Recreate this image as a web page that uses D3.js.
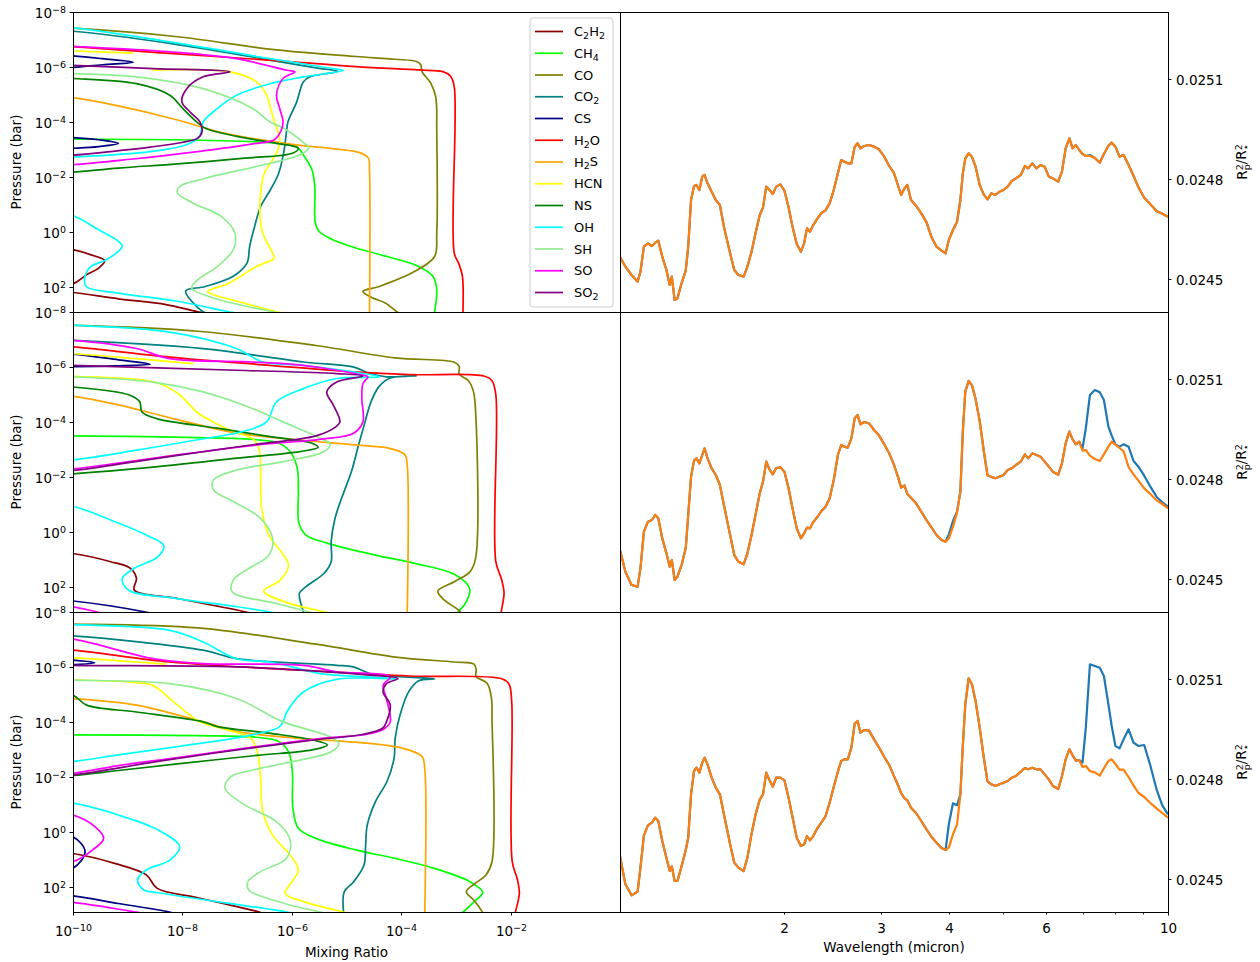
<!DOCTYPE html>
<html>
<head>
<meta charset="utf-8">
<script src="https://cdn.jsdelivr.net/npm/d3@7"></script>
<style>
  body { margin: 0; background: #fff; }
  svg text { font-family: "DejaVu Sans", sans-serif; fill: #000; }
</style>
</head>
<body>
<div id="chart"></div>
<script>
// ── Data ───────────────────────────────────────────────────────────────
// Profiles: each point is [log10(mixing ratio), log10(pressure / bar)].
// One sub-array per row (top, middle, bottom); null breaks a line.
const species = ["C2H2", "CH4", "CO", "CO2", "CS", "H2O", "H2S", "HCN", "NS", "OH", "SH", "SO", "SO2"];
const speciesColors = ["darkred", "lime", "olive", "teal", "navy", "red", "orange", "yellow", "green", "cyan", "lightgreen", "magenta", "purple"];

const C2H2 = [
  [[-10.6,0.5],[-10,0.65],[-9.67,0.84],[-9.42,1.05],[-9.53,1.32],[-9.75,1.56],[-10,1.89],[-10.6,2.0],[-10.6,2.1],[-10,2.21],[-9.17,2.44],[-8.3,2.65],[-7.72,2.91],[-7.4,3.0]],
  [[-10.6,0.7],[-10,0.79],[-9.31,1.09],[-8.95,1.33],[-8.84,1.7],[-8.88,2.12],[-8.09,2.43],[-6.86,2.91],[-6.7,3.0]],
  [[-10.6,0.7],[-10,0.79],[-9.24,1.15],[-8.66,1.57],[-8.46,2.06],[-7.72,2.4],[-6.57,2.94],[-6.5,3.0]]
];
const CH4 = [
  [[-10.6,-3.37],[-10,-3.37],[-8.09,-3.35],[-6.64,-3.27],[-6.13,-3.2],[-5.88,-3.04],[-5.77,-2.74],[-5.63,-2.25],[-5.58,-1.65],[-5.57,-0.32],[-5.5,-0.01],[-5.27,0.27],[-4.83,0.59],[-4.26,0.9],[-3.68,1.26],[-3.42,1.62],[-3.35,2.11],[-3.39,2.91],[-3.4,3.0]],
  [[-10.6,-3.49],[-10,-3.49],[-7.72,-3.43],[-6.64,-3.35],[-6.24,-3.22],[-6.03,-2.92],[-5.9,-2.31],[-5.88,-1.46],[-5.87,-0.31],[-5.74,0.12],[-5.34,0.42],[-4.47,0.85],[-3.75,1.15],[-3.03,1.55],[-2.75,2.06],[-2.81,2.55],[-2.96,2.91],[-3.0,3.0]],
  [[-10.6,-3.53],[-10,-3.53],[-7.72,-3.5],[-6.64,-3.44],[-6.24,-3.29],[-6.06,-2.92],[-5.99,-2.19],[-5.98,-0.86],[-5.88,-0.13],[-5.56,0.24],[-4.83,0.66],[-4.11,0.97],[-3.39,1.33],[-2.74,1.82],[-2.51,2.21],[-2.67,2.55],[-2.88,2.94],[-2.95,3.0]]
];
const CO = [
  [[-10.6,-7.45],[-10,-7.41],[-8.09,-7.1],[-6.28,-6.62],[-4.83,-6.38],[-4.11,-6.28],[-3.71,-6.19],[-3.64,-6.07],[-3.62,-5.83],[-3.46,-5.41],[-3.37,-4.92],[-3.35,-3.59],[-3.35,0.05],[-3.39,0.9],[-3.75,1.44],[-4.4,1.99],[-4.7,2.17],[-4.54,2.39],[-4.29,2.59],[-4.08,2.91],[-4.0,3.0]],
  [[-10.6,-7.52],[-10,-7.51],[-7.72,-7.3],[-5.56,-6.78],[-4.11,-6.33],[-3.03,-6.17],[-2.94,-6.02],[-2.94,-5.74],[-2.77,-5.5],[-2.68,-5.11],[-2.64,-4.38],[-2.64,0.97],[-2.74,1.45],[-3.03,1.82],[-3.33,2.16],[-3.21,2.49],[-2.99,2.79],[-2.92,2.91],[-2.9,3.0]],
  [[-10.6,-7.57],[-10,-7.56],[-7.72,-7.42],[-5.56,-6.83],[-4.11,-6.36],[-3.03,-6.18],[-2.67,-6.1],[-2.63,-5.9],[-2.63,-5.65],[-2.43,-5.41],[-2.35,-4.87],[-2.34,-4.14],[-2.34,1.09],[-2.45,1.57],[-2.67,1.91],[-2.81,2.18],[-2.67,2.49],[-2.52,2.91],[-2.5,3.0]]
];
const CO2 = [
  [[-10.6,-7.35],[-10,-7.3],[-8.2,-6.85],[-6.4,-6.25],[-5.5,-5.95],[-5.16,-5.84],[-5.67,-5.64],[-5.79,-5.45],[-5.91,-4.73],[-6.07,-4.0],[-6.1,-3.59],[-6.15,-2.86],[-6.24,-2.13],[-6.39,-1.53],[-6.57,-0.92],[-6.68,-0.19],[-6.77,0.53],[-6.82,1.14],[-7.07,1.62],[-7.58,1.99],[-7.94,2.15],[-7.83,2.53],[-7.62,2.91],[-7.5,3.0]],
  [[-10.6,-7.0],[-10,-6.97],[-7.62,-6.67],[-5.79,-6.18],[-4.88,-6.0],[-4.57,-5.76],[-4.27,-5.64],[-3.72,-5.68],[-4.2,-5.6],[-4.4,-5.3],[-4.55,-4.74],[-4.66,-4.01],[-4.78,-3.16],[-4.91,-2.19],[-5.09,-1.22],[-5.21,-0.49],[-5.28,0.36],[-5.28,1.09],[-5.41,1.51],[-5.74,2.0],[-5.86,2.24],[-5.79,2.91],[-5.78,3.0]],
  [[-10.6,-7.16],[-10,-7.13],[-7.62,-6.61],[-7.01,-6.3],[-5.18,-6.06],[-4.88,-6.0],[-4.57,-5.76],[-4.27,-5.67],[-3.39,-5.57],[-3.68,-5.5],[-3.86,-5.11],[-4.02,-4.26],[-4.11,-3.41],[-4.13,-2.68],[-4.26,-1.83],[-4.47,-1.1],[-4.62,-0.25],[-4.65,0.48],[-4.68,1.21],[-4.87,1.82],[-5.04,2.18],[-5.05,3.0]]
];
const CS = [
  [[-10.6,-6.45],[-10,-6.4],[-9.46,-6.3],[-8.9,-6.17],[-9.46,-6.08],[-10,-5.98],[-10.6,-5.9],[-10.6,-3.45],[-10,-3.43],[-9.53,-3.35],[-9.17,-3.22],[-9.53,-3.1],[-10,-3.04],[-10.6,-3.0],[-10.6,2.8],[-9.9,3.05]],
  [[-10.6,-6.52],[-10,-6.47],[-9.17,-6.26],[-8.59,-6.1],[-9.24,-6.04],[-10,-6.01],[-10.6,-6.0],[-10.6,2.45],[-10,2.52],[-8.7,2.91],[-8.5,3.0]],
  [[-10.6,-6.3],[-10,-6.25],[-9.6,-6.15],[-10,-6.08],[-10.6,-6.05],[-10.6,0.0],[-10,0.18],[-9.78,0.72],[-10,1.33],[-10.6,1.5],[-10.6,2.25],[-10,2.33],[-9.17,2.61],[-8.26,2.91],[-8.1,3.0]]
];
const H2O = [
  [[-10.6,-6.8],[-10,-6.74],[-8.45,-6.52],[-6.28,-6.23],[-4.83,-6.01],[-3.68,-5.89],[-3.24,-5.83],[-3.1,-5.67],[-3.03,-5.28],[-3.03,0.78],[-2.95,1.14],[-2.88,1.62],[-2.87,2.91],[-2.87,3.0]],
  [[-10.6,-6.78],[-10,-6.73],[-8.23,-6.36],[-6.4,-6.06],[-4.88,-5.82],[-3.84,-5.72],[-2.49,-5.67],[-2.34,-5.5],[-2.27,-4.99],[-2.27,1.09],[-2.17,1.7],[-2.12,2.24],[-2.17,2.91],[-2.17,3.0]],
  [[-10.6,-6.65],[-10,-6.61],[-8.23,-6.18],[-5.79,-5.88],[-3.84,-5.67],[-2.16,-5.57],[-2.03,-5.38],[-1.98,-4.74],[-1.97,1.09],[-1.88,1.7],[-1.84,2.24],[-1.91,2.91],[-1.92,3.0]]
];
const H2S = [
  [[-10.6,-4.95],[-10,-4.88],[-9.17,-4.58],[-8.09,-4.07],[-7.36,-3.65],[-6.64,-3.37],[-5.92,-3.16],[-5.19,-3.01],[-4.76,-2.88],[-4.6,-2.68],[-4.58,-2.25],[-4.58,3.0]],
  [[-10.6,-4.98],[-10,-4.93],[-9.17,-4.62],[-8.09,-4.08],[-7.0,-3.59],[-5.92,-3.35],[-4.83,-3.16],[-4.18,-3.02],[-3.93,-2.8],[-3.89,-2.43],[-3.89,3.0]],
  [[-10.6,-4.9],[-10,-4.85],[-8.84,-4.61],[-7.62,-4.0],[-7.0,-3.65],[-5.92,-3.41],[-4.83,-3.26],[-3.97,-3.04],[-3.62,-2.74],[-3.57,-2.31],[-3.57,3.0]]
];
const HCN = [
  [[-10.6,-6.62],[-10,-6.58],[-8.9,-6.5],null,[-8.56,-5.88],[-7.13,-5.82],[-6.64,-5.45],[-6.46,-4.97],[-6.37,-4.36],[-6.3,-3.9],[-6.22,-3.4],[-6.25,-3.0],[-6.35,-2.62],[-6.5,-2.13],[-6.57,-1.41],[-6.58,-0.56],[-6.53,0.05],[-6.35,0.78],[-6.32,0.96],[-6.64,1.26],[-7.15,1.87],[-7.54,2.17],[-7.43,2.29],[-7.0,2.53],[-6.28,2.91],[-6.1,3.0]],
  [[-10.6,-6.52],[-10,-6.48],[-8.84,-6.3],[-7.8,-6.12],null,[-10.6,-5.7],[-10,-5.66],[-8.8,-5.54],[-8.41,-5.39],[-8.04,-4.97],[-7.74,-4.36],[-7.44,-4.0],[-7.07,-3.65],[-6.71,-3.38],[-6.6,-3.04],[-6.57,-2.19],[-6.55,-0.86],[-6.42,0.12],[-6.17,0.79],[-6.06,1.21],[-6.21,1.76],[-6.51,2.16],[-6.13,2.55],[-5.41,2.91],[-5.2,3.0]],
  [[-10.6,-6.37],[-10,-6.33],[-8.84,-6.18],[-8.3,-6.1],null,[-10.6,-5.56],[-10,-5.53],[-8.96,-5.45],[-8.54,-5.33],[-8.23,-4.85],[-7.86,-4.24],[-7.68,-4.0],[-7.15,-3.69],[-6.75,-3.41],[-6.63,-2.92],[-6.57,-1.95],[-6.53,-0.73],[-6.35,0.12],[-6.03,0.85],[-5.88,1.39],[-5.99,1.8],[-6.12,2.25],[-5.77,2.55],[-5.08,2.91],[-4.9,3.0]]
];
const NS = [
  [[-10.6,-5.62],[-10,-5.58],[-8.84,-5.39],[-8.23,-4.97],[-7.99,-4.48],[-7.74,-4.0],[-7.58,-3.77],[-7.0,-3.47],[-6.28,-3.22],[-5.88,-3.04],[-5.99,-2.86],[-6.86,-2.68],[-8.09,-2.47],[-9.17,-2.32],[-10,-2.17],[-10.6,-2.1]],
  [[-10.6,-5.3],[-10,-5.27],[-8.96,-4.97],[-8.78,-4.73],[-8.74,-4.36],[-8.47,-4.12],[-7.36,-3.77],[-6.42,-3.47],[-5.63,-3.22],[-5.52,-3.07],[-5.85,-2.92],[-7.0,-2.68],[-8.45,-2.37],[-10,-2.11],[-10.6,-2.05]],
  [[-10.6,-5.1],[-10,-4.97],[-9.75,-4.61],[-8.84,-4.36],[-7.62,-4.0],[-7.36,-3.83],[-6.42,-3.59],[-5.63,-3.35],[-5.35,-3.16],[-5.63,-2.98],[-6.64,-2.78],[-8.09,-2.47],[-9.17,-2.23],[-10,-2.05],[-10.6,-2.0]]
];
const OH = [
  [[-10.6,-7.45],[-10,-7.42],[-8.23,-6.91],[-6.4,-6.3],[-5.18,-5.92],[-5.06,-5.87],[-5.79,-5.64],[-6.4,-5.39],[-7.01,-4.97],[-7.44,-4.36],[-7.62,-4.0],[-7.69,-3.47],[-7.94,-3.16],[-8.59,-2.92],[-10,-2.72],[-10.6,-2.68],[-10.6,-0.7],[-10,-0.58],[-9.53,-0.07],[-9.17,0.35],[-9.1,0.53],[-9.39,1.02],[-9.67,1.26],[-9.78,1.62],[-9.76,1.99],[-9.17,2.23],[-8.09,2.53],[-7.15,2.91],[-6.9,3.0]],
  [[-10.6,-7.55],[-10,-7.52],[-8.23,-7.27],[-7.01,-6.67],[-6.53,-6.18],[-5.79,-6.06],[-4.88,-5.82],[-4.39,-5.64],[-5.18,-5.58],[-5.79,-5.21],[-6.28,-4.73],[-6.46,-4.0],[-6.86,-3.67],[-7.72,-3.35],[-8.81,-2.98],[-10,-2.62],[-10.6,-2.55],[-10.6,-1.0],[-10,-0.92],[-9.31,-0.43],[-8.66,0.12],[-8.34,0.51],[-8.45,0.91],[-8.88,1.33],[-9.1,1.7],[-8.99,2.12],[-8.09,2.43],[-7.0,2.73],[-6.42,2.91],[-6.2,3.0]],
  [[-10.6,-7.56],[-10,-7.54],[-8.23,-7.33],[-7.62,-6.91],[-7.01,-6.3],[-6.4,-6.18],[-5.48,-5.76],[-5.18,-5.7],[-4.08,-5.57],[-5.18,-5.55],[-5.79,-5.09],[-6.09,-4.36],[-6.16,-4.0],[-6.24,-3.8],[-6.86,-3.47],[-8.09,-3.1],[-9.17,-2.8],[-10,-2.56],[-10.6,-2.5],[-10.6,-1.1],[-10,-1.04],[-9.17,-0.61],[-8.45,-0.07],[-8.05,0.54],[-8.23,1.03],[-8.66,1.39],[-8.82,1.75],[-8.71,2.11],[-8.44,2.22],[-6.12,2.91],[-5.9,3.0]]
];
const SH = [
  [[-10.6,-5.8],[-10,-5.76],[-8.84,-5.64],[-7.62,-5.21],[-6.71,-4.48],[-6.4,-4.0],[-6.13,-3.75],[-5.77,-3.22],[-5.69,-3.07],[-5.85,-2.8],[-6.64,-2.38],[-7.58,-1.95],[-8.05,-1.65],[-8.09,-1.41],[-7.8,-1.04],[-7.29,-0.56],[-7.04,0.05],[-7.07,0.65],[-7.36,1.26],[-7.72,1.75],[-7.83,2.05],[-7.43,2.41],[-6.35,2.91],[-6.1,3.0]],
  [[-10.6,-5.66],[-10,-5.64],[-8.54,-5.45],[-7.62,-5.09],[-6.71,-4.48],[-6.16,-4.0],[-5.48,-3.41],[-5.3,-3.19],[-5.41,-2.92],[-6.13,-2.56],[-7.0,-2.25],[-7.43,-1.89],[-7.43,-1.52],[-7.07,-1.1],[-6.57,-0.49],[-6.35,0.24],[-6.42,0.85],[-6.78,1.33],[-7.07,1.76],[-7.09,2.18],[-6.28,2.61],[-5.7,2.91],[-5.5,3.0]],
  [[-10.6,-5.55],[-10,-5.52],[-8.23,-5.39],[-7.01,-4.85],[-6.16,-4.0],[-5.34,-3.49],[-5.14,-3.22],[-5.27,-2.92],[-5.92,-2.58],[-6.71,-2.25],[-7.11,-2.01],[-7.22,-1.58],[-6.86,-0.98],[-6.28,-0.37],[-6.03,0.3],[-6.1,0.97],[-6.57,1.45],[-6.8,1.8],[-6.79,2.11],[-6.13,2.61],[-5.5,2.91],[-5.3,3.0]]
];
const SO = [
  [[-10.6,-6.8],[-10,-6.75],[-8.23,-6.55],[-7.01,-6.3],[-6.09,-5.88],[-5.94,-5.82],[-6.16,-5.58],[-6.28,-4.97],[-6.22,-4.48],[-6.16,-4.0],[-6.19,-3.71],[-6.32,-3.35],[-6.71,-3.2],[-7.72,-2.92],[-8.95,-2.64],[-10,-2.44],[-10.6,-2.4]],
  [[-10.6,-7.0],[-10,-6.97],[-8.84,-6.67],[-8.23,-6.3],[-6.71,-6.18],[-5.79,-6.06],[-4.7,-5.7],[-4.61,-5.64],[-4.7,-5.39],[-4.72,-4.85],[-4.7,-4.0],[-4.87,-3.59],[-5.41,-3.38],[-6.64,-3.16],[-8.09,-2.8],[-9.17,-2.5],[-10,-2.29],[-10.6,-2.2],[-10.6,2.65],[-10,2.73],[-9.5,2.95]],
  [[-10.6,-7.05],[-10,-7.01],[-8.54,-6.3],[-7.62,-6.12],[-5.79,-6.06],[-5.18,-5.82],[-4.2,-5.64],[-4.33,-5.33],[-4.27,-4.85],[-4.2,-4.0],[-4.31,-3.75],[-4.62,-3.55],[-5.41,-3.41],[-6.64,-3.1],[-8.09,-2.7],[-9.17,-2.41],[-10,-2.13],[-10.6,-2.05],[-10.6,-0.7],[-10,-0.61],[-9.6,-0.19],[-9.44,0.24],[-9.64,0.66],[-10,1.09],[-10.6,1.2],[-10.6,2.5],[-10,2.57],[-8.89,2.91],[-8.6,3.0]]
];
const SO2 = [
  [[-10.6,-6.1],[-10,-6.06],[-8.53,-5.94],[-7.13,-5.82],[-7.62,-5.64],[-7.92,-5.21],[-8.01,-4.73],[-7.86,-4.36],[-7.68,-4.0],[-7.64,-3.65],[-7.72,-3.41],[-8.01,-3.25],[-8.59,-3.08],[-9.31,-2.92],[-10,-2.79],[-10.6,-2.75]],
  [[-10.6,-6.1],[-10,-6.06],[-7.01,-5.88],[-5.18,-5.76],[-4.7,-5.67],[-5.18,-5.45],[-5.36,-5.09],[-5.24,-4.61],[-5.12,-4.0],[-5.19,-3.83],[-5.56,-3.49],[-6.64,-3.19],[-8.09,-2.78],[-9.17,-2.46],[-10,-2.23],[-10.6,-2.18]],
  [[-10.6,-6.1],[-10,-6.06],[-7.01,-6.0],[-4.57,-5.7],[-4.06,-5.58],[-4.27,-5.39],[-4.33,-5.09],[-4.2,-4.61],[-4.27,-4.0],[-4.34,-3.77],[-4.69,-3.55],[-5.56,-3.35],[-7.0,-2.98],[-8.45,-2.56],[-10,-2.07],[-10.6,-2.0]]
];

// Spectra: wavelength (micron) and transit depth Rp^2/R*^2 in ppm
const wavelength = [1.006,1.029,1.056,1.083,1.096,1.112,1.131,1.150,1.166,1.181,1.201,1.222,1.239,1.250,1.265,1.280,1.302,1.325,1.339,1.355,1.372,1.386,1.403,1.420,1.434,1.452,1.477,1.503,1.529,1.555,1.596,1.624,1.652,1.689,1.716,1.746,1.776,1.807,1.832,1.857,1.883,1.909,1.936,1.969,2.004,2.039,2.074,2.110,2.147,2.176,2.203,2.230,2.260,2.300,2.340,2.380,2.422,2.464,2.507,2.542,2.577,2.613,2.653,2.690,2.723,2.756,2.799,2.857,2.917,2.978,3.045,3.109,3.169,3.224,3.268,3.314,3.354,3.406,3.478,3.556,3.637,3.713,3.790,3.870,3.937,3.991,4.061,4.131,4.189,4.232,4.276,4.336,4.396,4.465,4.542,4.621,4.693,4.767,4.850,4.934,5.020,5.107,5.196,5.286,5.396,5.490,5.566,5.663,5.762,5.862,5.964,6.068,6.173,6.313,6.412,6.512,6.614,6.705,6.799,6.893,6.989,7.086,7.209,7.360,7.513,7.644,7.790,7.899,8.022,8.161,8.303,8.477,8.654,8.835,9.051,9.288,9.531,9.763,10.000];

const orangeTop = [24567,24537,24512,24492,24522,24597,24607,24599,24609,24615,24567,24527,24482,24507,24437,24442,24487,24525,24597,24737,24779,24782,24767,24807,24812,24787,24762,24737,24722,24657,24577,24527,24512,24507,24537,24582,24639,24692,24715,24777,24767,24755,24777,24784,24765,24715,24655,24605,24582,24607,24652,24642,24661,24681,24698,24706,24727,24767,24817,24857,24852,24847,24847,24897,24907,24892,24899,24902,24897,24889,24867,24839,24819,24782,24752,24772,24782,24737,24720,24697,24669,24625,24597,24585,24577,24617,24647,24672,24737,24817,24862,24877,24867,24837,24782,24753,24739,24757,24752,24762,24767,24777,24794,24802,24812,24839,24832,24847,24832,24842,24837,24807,24802,24792,24822,24892,24922,24892,24902,24887,24875,24869,24869,24863,24849,24875,24900,24909,24897,24867,24872,24842,24810,24775,24744,24724,24704,24696,24687];
const blueTop = [24567,24537,24512,24492,24522,24597,24607,24599,24609,24615,24567,24527,24482,24507,24437,24442,24487,24525,24597,24737,24779,24782,24767,24807,24812,24787,24762,24737,24722,24657,24577,24527,24512,24507,24537,24582,24639,24692,24715,24777,24767,24755,24777,24784,24765,24715,24655,24605,24582,24607,24652,24642,24661,24681,24698,24706,24727,24767,24817,24857,24852,24847,24847,24897,24907,24892,24899,24902,24897,24889,24867,24839,24819,24782,24752,24772,24782,24737,24720,24697,24669,24625,24597,24585,24577,24617,24647,24672,24737,24817,24862,24877,24867,24837,24782,24753,24739,24757,24752,24762,24767,24777,24794,24802,24812,24839,24832,24847,24832,24842,24837,24807,24802,24792,24822,24892,24922,24892,24902,24887,24875,24869,24872,24863,24849,24875,24900,24909,24897,24867,24872,24842,24810,24775,24744,24724,24704,24696,24687];

const orangeMid = [24587,24522,24482,24477,24532,24642,24672,24677,24692,24682,24622,24577,24537,24557,24497,24507,24542,24592,24692,24807,24855,24862,24847,24872,24892,24862,24832,24812,24782,24722,24632,24572,24552,24544,24577,24632,24694,24757,24792,24852,24828,24814,24833,24835,24822,24772,24710,24652,24622,24637,24654,24652,24670,24686,24704,24716,24742,24797,24872,24902,24897,24894,24922,24982,24992,24964,24971,24967,24947,24931,24904,24877,24844,24807,24774,24781,24755,24744,24727,24702,24676,24654,24632,24617,24612,24622,24657,24700,24762,24942,25062,25094,25082,25040,24974,24884,24811,24807,24802,24807,24812,24827,24832,24842,24852,24874,24862,24877,24872,24867,24852,24837,24822,24813,24847,24907,24942,24919,24904,24912,24885,24887,24870,24860,24854,24874,24897,24912,24903,24893,24883,24836,24814,24795,24772,24755,24736,24725,24712];
const blueMid = [24587,24522,24482,24477,24532,24642,24672,24677,24692,24682,24622,24577,24537,24557,24497,24507,24542,24592,24692,24807,24855,24862,24847,24872,24892,24862,24832,24812,24782,24722,24632,24572,24552,24544,24577,24632,24694,24757,24792,24852,24828,24814,24833,24835,24822,24772,24710,24652,24622,24637,24654,24652,24670,24686,24704,24716,24742,24797,24872,24902,24897,24894,24922,24982,24992,24964,24971,24967,24947,24931,24904,24877,24844,24807,24774,24781,24755,24744,24727,24702,24676,24654,24632,24617,24612,24634,24674,24702,24762,24942,25062,25094,25082,25040,24974,24884,24811,24807,24802,24807,24812,24827,24832,24842,24852,24874,24862,24877,24872,24867,24852,24837,24822,24813,24847,24907,24942,24919,24904,24912,24892,24952,25052,25067,25060,25037,24957,24930,24904,24897,24904,24897,24854,24837,24810,24777,24747,24730,24717];

const orangeBot = [24569,24484,24451,24462,24534,24631,24661,24669,24684,24674,24614,24564,24524,24538,24494,24494,24538,24586,24624,24754,24824,24834,24819,24849,24864,24844,24804,24774,24754,24694,24604,24549,24534,24524,24564,24636,24694,24738,24754,24819,24796,24777,24804,24804,24796,24744,24684,24624,24599,24604,24629,24616,24628,24652,24670,24688,24729,24777,24822,24854,24859,24859,24894,24966,24974,24939,24947,24945,24919,24895,24866,24842,24810,24782,24758,24742,24736,24714,24698,24674,24648,24626,24609,24593,24587,24594,24634,24664,24754,24899,25024,25102,25084,25034,24954,24864,24793,24784,24779,24784,24789,24794,24804,24809,24822,24833,24829,24834,24829,24829,24814,24799,24779,24770,24808,24859,24889,24871,24855,24857,24836,24839,24824,24820,24810,24832,24854,24859,24845,24828,24828,24806,24781,24758,24746,24728,24712,24698,24684];
const blueBot = [24569,24484,24451,24462,24534,24631,24661,24669,24684,24674,24614,24564,24524,24538,24494,24494,24538,24586,24624,24754,24824,24834,24819,24849,24864,24844,24804,24774,24754,24694,24604,24549,24534,24524,24564,24636,24694,24738,24754,24819,24796,24777,24804,24804,24796,24744,24684,24624,24599,24604,24629,24616,24628,24652,24670,24688,24729,24777,24822,24854,24859,24859,24894,24966,24974,24939,24947,24945,24919,24895,24866,24842,24810,24782,24758,24742,24736,24714,24698,24674,24648,24626,24609,24593,24587,24664,24727,24721,24754,24899,25024,25102,25084,25034,24954,24864,24793,24784,24779,24784,24789,24794,24804,24809,24822,24833,24829,24834,24829,24829,24814,24799,24779,24770,24808,24859,24889,24871,24855,24857,24849,24954,25144,25139,25134,25109,25024,24959,24899,24892,24919,24949,24909,24899,24902,24840,24769,24721,24694];

// Ticks
const pressureTicks = [-8, -6, -4, -2, 0, 2];          // exponents
const mixTicks = [-10, -8, -6, -4, -2];                // exponents
const waveTicks = [2, 3, 4, 6, 10];
const waveMinorTicks = [5, 7, 8, 9];
const depthTicks = [24500, 24800, 25100];              // ppm

// ── Layout ─────────────────────────────────────────────────────────────
const width = 1260, height = 962;
const leftX0 = 73, midX = 620, rightX1 = 1168;
const rowTops = [12, 312, 612];
const rowH = 300;
const FS = 13.5;

const profiles = { C2H2, CH4, CO, CO2, CS, H2O, H2S, HCN, NS, OH, SH, SO, SO2 };
const orange = [orangeTop, orangeMid, orangeBot];
const blue = [blueTop, blueMid, blueBot];

const svg = d3.select("#chart").append("svg")
  .attr("width", width).attr("height", height);
const defs = svg.append("defs");

// ── Scales ─────────────────────────────────────────────────────────────
const xMix = d3.scaleLog().domain([1e-10, 1]).range([leftX0, midX]);
const xWave = d3.scaleLog().domain([1.006, 10]).range([midX, rightX1]);

function powLabel(text, exp) {
  text.append("tspan").text("10");
  text.append("tspan")
    .attr("dy", "-0.5em")
    .attr("font-size", "9.5px")
    .text(exp < 0 ? "\u2212" + (-exp) : String(exp));
}

rowTops.forEach((y0, i) => {
  const y1 = y0 + rowH;
  const yP = d3.scaleLog().domain([1e-8, Math.pow(10, 2.92)]).range([y0, y1]);
  const yD = d3.scaleLinear().domain([24401, 25301]).range([y1, y0]);

  defs.append("clipPath").attr("id", "clipL" + i)
    .append("rect").attr("x", leftX0).attr("y", y0).attr("width", midX - leftX0).attr("height", rowH);
  defs.append("clipPath").attr("id", "clipR" + i)
    .append("rect").attr("x", midX).attr("y", y0).attr("width", rightX1 - midX).attr("height", rowH);

  // ── Profiles ──
  const gl = svg.append("g").attr("clip-path", `url(#clipL${i})`);
  const line = d3.line()
    .defined((d) => d != null)
    .x((d) => xMix(Math.pow(10, d[0])))
    .y((d) => yP(Math.pow(10, d[1])))
    .curve(d3.curveCatmullRom.alpha(0.5));

  species.forEach((s, k) => {
    gl.append("path")
      .attr("d", line(profiles[s][i]))
      .attr("fill", "none")
      .attr("stroke", speciesColors[k])
      .attr("stroke-width", 1.7)
      .attr("stroke-linejoin", "round");
  });

  // ── Spectra ──
  const gr = svg.append("g").attr("clip-path", `url(#clipR${i})`);
  const spec = d3.line()
    .x((d, j) => xWave(wavelength[j]))
    .y((d) => yD(d));

  gr.append("path").attr("d", spec(blue[i]))
    .attr("fill", "none").attr("stroke", "#1f77b4").attr("stroke-width", 2.2).attr("stroke-linejoin", "round");
  gr.append("path").attr("d", spec(orange[i]))
    .attr("fill", "none").attr("stroke", "#ff7f0e").attr("stroke-width", 2.2).attr("stroke-linejoin", "round");

  // ── Frames ──
  svg.append("rect")
    .attr("x", leftX0 + 0.5).attr("y", y0 + 0.5)
    .attr("width", midX - leftX0).attr("height", rowH)
    .attr("fill", "none").attr("stroke", "#000").attr("stroke-width", 1);
  svg.append("rect")
    .attr("x", midX + 0.5).attr("y", y0 + 0.5)
    .attr("width", rightX1 - midX).attr("height", rowH)
    .attr("fill", "none").attr("stroke", "#000").attr("stroke-width", 1);

  // ── Left y ticks ──
  pressureTicks.forEach((e) => {
    const y = Math.round(yP(Math.pow(10, e))) + 0.5;
    svg.append("line").attr("x1", leftX0 - 3.5).attr("x2", leftX0).attr("y1", y).attr("y2", y)
      .attr("stroke", "#000").attr("stroke-width", 1);
    const t = svg.append("text")
      .attr("x", leftX0 - 7).attr("y", y + 5)
      .attr("text-anchor", "end").attr("font-size", FS + "px");
    powLabel(t, e);
  });

  svg.append("text")
    .attr("transform", `translate(21,${y0 + rowH / 2}) rotate(-90)`)
    .attr("text-anchor", "middle").attr("font-size", FS + "px")
    .text("Pressure (bar)");

  // ── Right y ticks ──
  depthTicks.forEach((v) => {
    const y = Math.round(yD(v)) + 0.5;
    svg.append("line").attr("x1", rightX1).attr("x2", rightX1 + 3.5).attr("y1", y).attr("y2", y)
      .attr("stroke", "#000").attr("stroke-width", 1);
    svg.append("text")
      .attr("x", rightX1 + 8).attr("y", y + 5)
      .attr("font-size", FS + "px")
      .text((v / 1e6).toFixed(4));
  });

  const rl = svg.append("text")
    .attr("transform", `translate(1247,${y0 + rowH / 2}) rotate(-90)`)
    .attr("text-anchor", "middle").attr("font-size", FS + "px");
  rl.append("tspan").text("R");
  rl.append("tspan").attr("dy", "-0.45em").attr("font-size", "9.5px").text("2");
  rl.append("tspan").attr("dx", "-6").attr("dy", "0.75em").attr("font-size", "9.5px").text("p");
  rl.append("tspan").attr("dy", "-0.3em").text("/R");
  rl.append("tspan").attr("dy", "-0.45em").attr("font-size", "9.5px").text("2");
  rl.append("tspan").attr("dx", "-6").attr("dy", "0.75em").attr("font-size", "9.5px").text("\u22c6");
});

// ── Bottom x axes ──────────────────────────────────────────────────────
const yb = rowTops[2] + rowH;
mixTicks.forEach((e) => {
  const x = Math.round(xMix(Math.pow(10, e))) + 0.5;
  svg.append("line").attr("x1", x).attr("x2", x).attr("y1", yb).attr("y2", yb + 3.5)
    .attr("stroke", "#000").attr("stroke-width", 1);
  const t = svg.append("text")
    .attr("x", x).attr("y", yb + 24)
    .attr("text-anchor", "middle").attr("font-size", FS + "px");
  powLabel(t, e);
});

waveTicks.forEach((w) => {
  const x = Math.round(xWave(w)) + 0.5;
  svg.append("line").attr("x1", x).attr("x2", x).attr("y1", yb).attr("y2", yb + (w === 10 ? 3.5 : 2.5))
    .attr("stroke", "#000").attr("stroke-width", 1);
  svg.append("text")
    .attr("x", x).attr("y", yb + 21)
    .attr("text-anchor", "middle").attr("font-size", FS + "px")
    .text(w);
});
waveMinorTicks.forEach((w) => {
  const x = Math.round(xWave(w)) + 0.5;
  svg.append("line").attr("x1", x).attr("x2", x).attr("y1", yb).attr("y2", yb + 2.5)
    .attr("stroke", "#000").attr("stroke-width", 0.8);
});

svg.append("text")
  .attr("x", (leftX0 + midX) / 2).attr("y", 957)
  .attr("text-anchor", "middle").attr("font-size", FS + "px")
  .text("Mixing Ratio");
svg.append("text")
  .attr("x", (midX + rightX1) / 2).attr("y", 952)
  .attr("text-anchor", "middle").attr("font-size", FS + "px")
  .text("Wavelength (micron)");

// ── Legend ─────────────────────────────────────────────────────────────
const legend = svg.append("g").attr("transform", "translate(530,18)");
legend.append("rect")
  .attr("width", 83).attr("height", 289).attr("rx", 3)
  .attr("fill", "#fff").attr("fill-opacity", 0.8)
  .attr("stroke", "#cccccc").attr("stroke-width", 1);

species.forEach((s, k) => {
  const y = 13.5 + k * 21.75;
  legend.append("line")
    .attr("x1", 5).attr("x2", 33).attr("y1", y).attr("y2", y)
    .attr("stroke", speciesColors[k]).attr("stroke-width", 1.7);
  const t = legend.append("text")
    .attr("x", 44).attr("y", y + 4.5).attr("font-size", "13px");
  let sub = false;
  s.split("").forEach((ch) => {
    const isDigit = /[0-9]/.test(ch);
    const ts = t.append("tspan").text(ch);
    if (isDigit && !sub) { ts.attr("dy", "0.3em").attr("font-size", "9.5px"); sub = true; }
    else if (isDigit) { ts.attr("font-size", "9.5px"); }
    else if (sub) { ts.attr("dy", "-0.22em"); sub = false; }
  });
});
</script>
</body>
</html>
